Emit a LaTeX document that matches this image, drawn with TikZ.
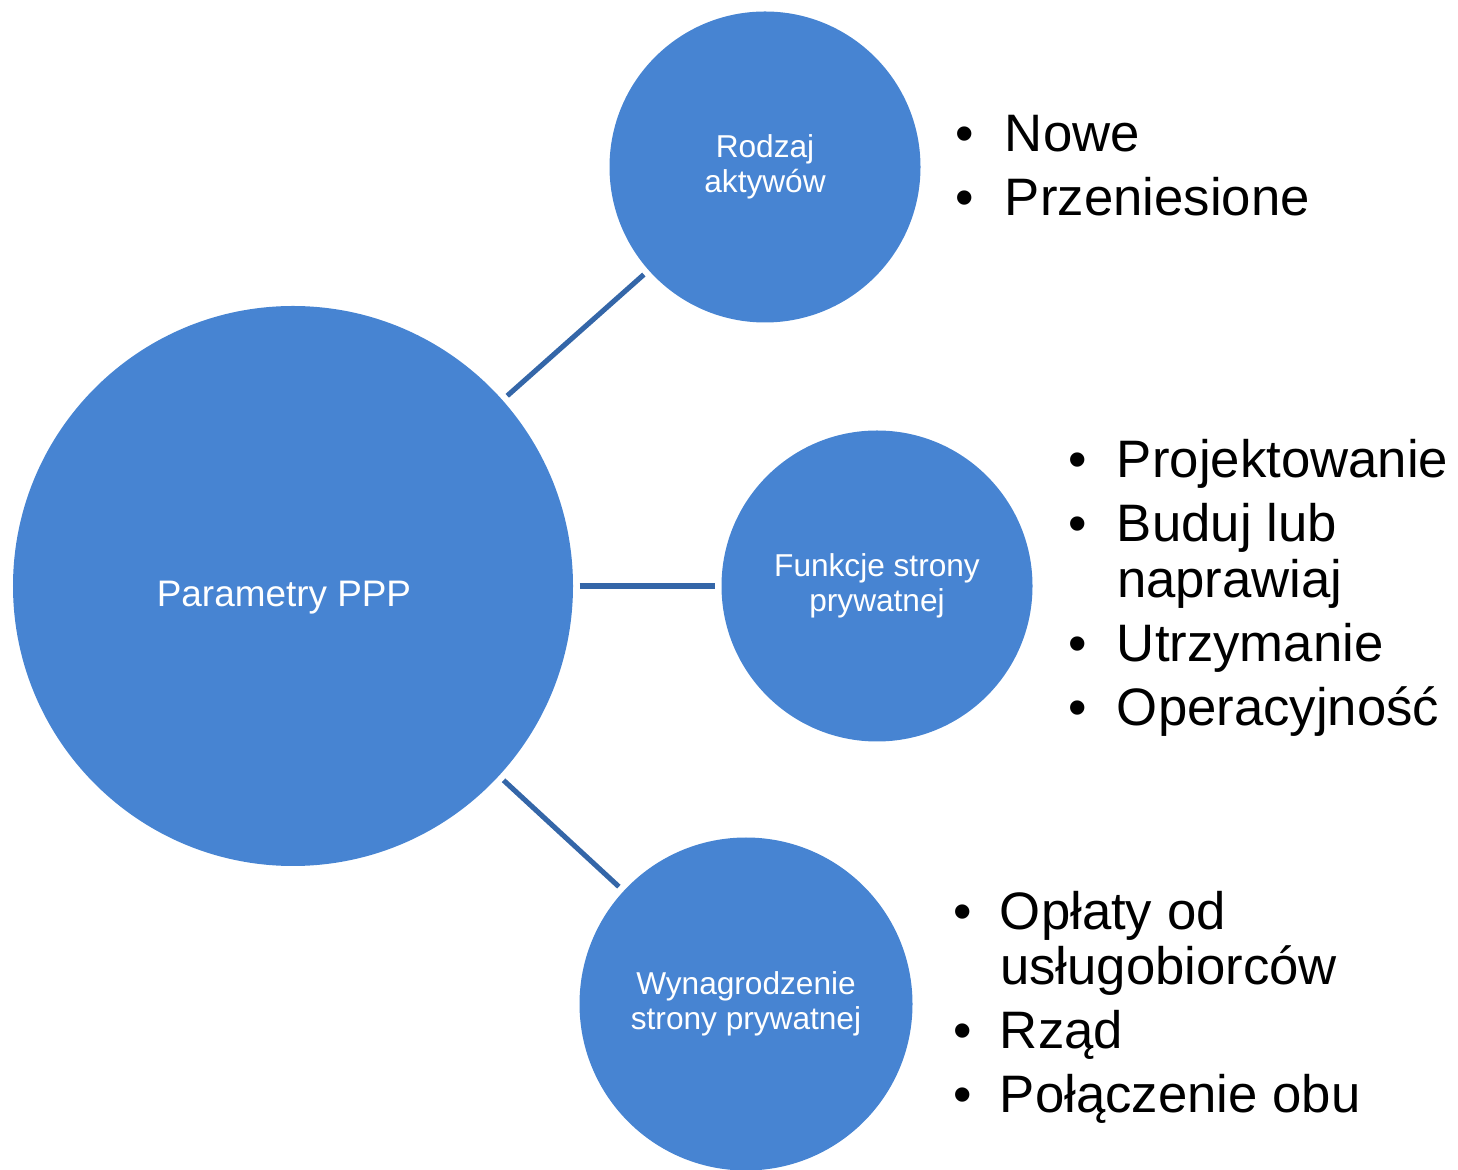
\documentclass[tikz,border=0pt]{standalone}
\usepackage{fontspec}
\setmainfont{Liberation Sans}
\usepackage{array}
\usetikzlibrary{positioning}
\definecolor{bubblefill}{RGB}{71,132,210}
\definecolor{linkline}{RGB}{52,102,168}
\tikzset{
  bubble/.style={circle, fill=bubblefill, draw=none, inner sep=0pt, outer sep=0pt,
    text=white, align=center, font=\fontsize{9}{10}\selectfont},
  link/.style={draw=linkline, line width=1.45pt, shorten <=0.065cm, shorten >=0.065cm},
  bullets/.style={anchor=base west, inner sep=0pt, outer sep=0pt,
    font=\fontsize{15}{15.8}\selectfont}
}
\newcommand{\bulletlist}[2]{\begin{tabular}[t]{@{}p{#1}@{}l@{}}#2\end{tabular}}

\begin{document}
\begin{tikzpicture}
  \useasboundingbox (0,0) rectangle (14.58,11.69);
  %%%%% circles %%%%%
  \node[bubble, minimum size=5.6cm] (params) at (2.93, 5.83) {};
  \node[text=white, inner sep=0pt, font=\fontsize{10.5}{12}\selectfont] (paramstext)
    at ([xshift=-0.09cm, yshift=-0.12cm]params.center) {Parametry PPP};
  \node[bubble, minimum size=3.11cm] (rodzaj) at (7.65, 10.02) {Rodzaj\\aktywów};
  \node[bubble, minimum size=3.11cm] (funkcje) at (8.77, 5.83) {Funkcje strony\\prywatnej};
  \node[bubble, minimum size=3.33cm] (wynagr) at (7.46, 1.65) {Wynagrodzenie\\strony prywatnej};

  %%%%% connectors %%%%%
  \draw[link] (params) -- (rodzaj);
  \draw[link] (params) -- (funkcje);
  \draw[link] (params) -- (wynagr);

  %%%%% lists %%%%%
  \node[bullets] (rodzajlist) at (9.55, 10.17) {\bulletlist{0.50cm}{%
    \textbullet & Nowe\\[2.4pt]
    \textbullet & Przeniesione}};
  \node[bullets] (funkcjelist) at (10.68, 6.91) {\bulletlist{0.49cm}{%
    \textbullet & Projektowanie\\[2.4pt]
    \textbullet & Buduj lub\\
                & naprawiaj\\[2.4pt]
    \textbullet & Utrzymanie\\[2.4pt]
    \textbullet & Operacyjność}};
  \node[bullets] (wynagrlist) at (9.53, 2.40) {\bulletlist{0.47cm}{%
    \textbullet & Opłaty od\\
                & usługobiorców\\[2.4pt]
    \textbullet & Rząd\\[2.4pt]
    \textbullet & Połączenie obu}};
\end{tikzpicture}
\end{document}
